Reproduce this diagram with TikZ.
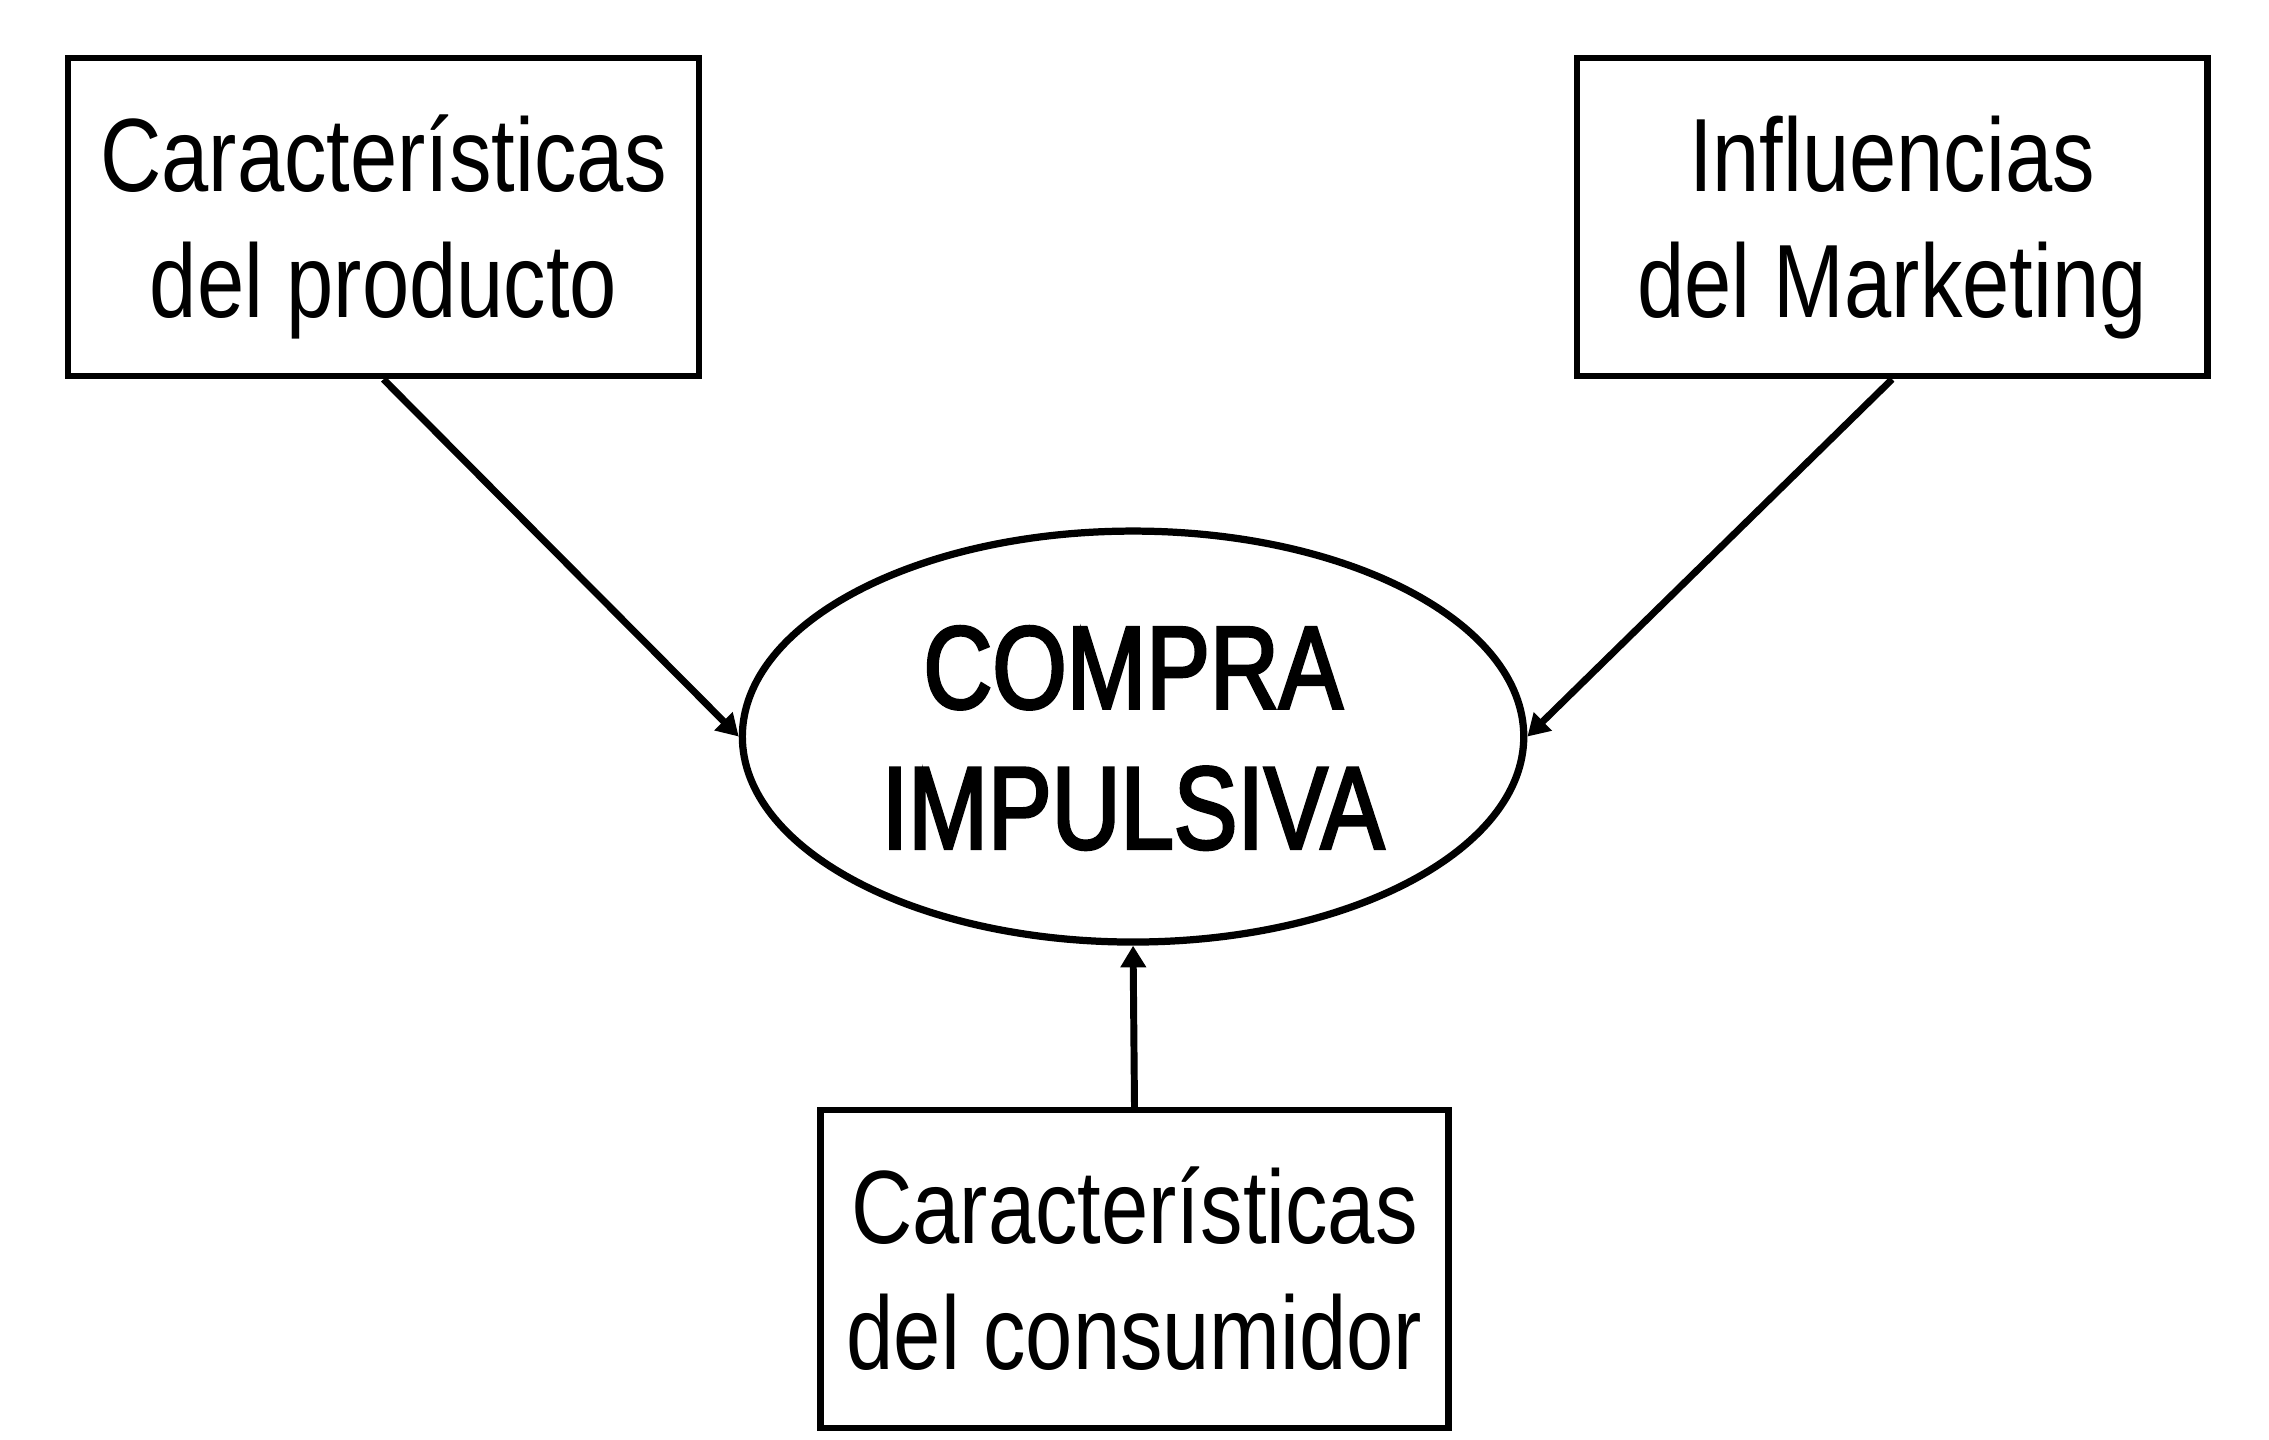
\documentclass[tikz,border=0pt]{standalone}
\usepackage{fontspec}
\setmainfont{Liberation Sans}
\newfontfamily\boxfont{Liberation Sans}[FakeStretch=0.815]
\newfontfamily\ellfont{Liberation Sans}[FakeStretch=0.812,FakeBold=2.5]
\usetikzlibrary{arrows.meta,shapes.geometric}
\begin{document}
\begin{tikzpicture}[x=1pt,y=-1pt,
  box/.style={draw, line width=4.2pt, rectangle, minimum width=436pt, minimum height=220pt, inner sep=0pt},
  oval/.style={draw, line width=5pt, ellipse, minimum width=540pt, minimum height=284pt, inner sep=0pt},
  btxt/.style={anchor=base, inner sep=0pt, font=\boxfont\fontsize{72}{86}\selectfont},
  etxt/.style={anchor=base, inner sep=0pt, font=\ellfont\fontsize{81.3}{97}\selectfont},
  link/.style={line width=4.8pt, -{Triangle[length=15pt,width=17pt]}}]
\useasboundingbox (0,0) rectangle (1568,995);
% boxes
\node[box] (prod) at (265,150) {};
\node[box] (mkt) at (1307.5,150) {};
\node[box, minimum width=434pt] (cons) at (784,877) {};
\node[oval] (imp) at (783,509) {};
% texts
\node[btxt] (prod1) at ([yshift=17.7pt]prod.center) {Características};
\node[btxt] (prod2) at ([yshift=-69.5pt]prod.center) {del producto};
\node[btxt] (mkt1) at ([yshift=17.7pt]mkt.center) {Influencias};
\node[btxt] (mkt2) at ([yshift=-69.5pt]mkt.center) {del Marketing};
\node[btxt] (cons1) at ([yshift=17.7pt]cons.center) {Características};
\node[btxt] (cons2) at ([yshift=-69.5pt]cons.center) {del consumidor};
\node[etxt] (imp1) at ([yshift=19.5pt]imp.center) {COMPRA};
\node[etxt] (imp2) at ([yshift=-77.5pt]imp.center) {IMPULSIVA};
% connectors
\draw[link] (prod.south) -- (imp.west);
\draw[link] (mkt.south) -- (imp.east);
\draw[link] (cons.north) -- (imp.south);
\end{tikzpicture}
\end{document}
